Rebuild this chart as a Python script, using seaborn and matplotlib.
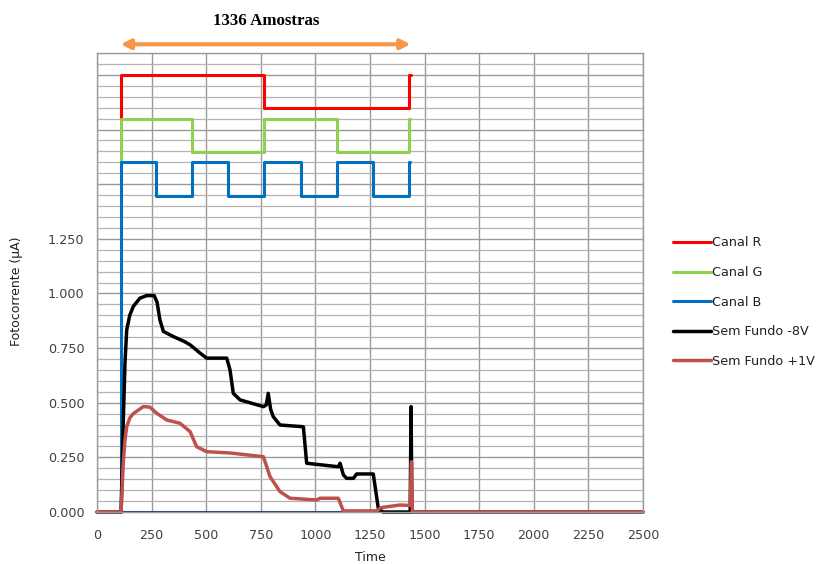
import numpy as np
import pandas as pd
import matplotlib
matplotlib.use("Agg")
import matplotlib.pyplot as plt
from matplotlib.ticker import FixedLocator, FixedFormatter, MultipleLocator
import seaborn as sns

# --- data ---
# channel square waves (offset levels, time in samples)
r_time = [108, 108, 766, 766, 1430, 1430, 1436]
r_level = [1.80, 2.00, 2.00, 1.85, 1.85, 2.00, 2.00]

g_time = [108, 108, 434, 434, 766, 766, 1098, 1098, 1430, 1430, 1434]
g_level = [1.60, 1.80, 1.80, 1.645, 1.645, 1.80, 1.80, 1.645, 1.645, 1.80, 1.80]

b_time = [0, 108, 108, 270, 270, 434, 434, 600, 600, 766, 766, 932, 932,
          1098, 1098, 1264, 1264, 1430, 1430, 1434]
b_level = [0, 0, 1.60, 1.60, 1.445, 1.445, 1.60, 1.60, 1.445, 1.445, 1.60,
           1.60, 1.445, 1.445, 1.60, 1.60, 1.445, 1.445, 1.60, 1.60]

# baseline of the blue channel at zero
base_time = [108, 1300]
base_level = [0, 0]

# photocurrent without background, -8V
k_time = [0, 110, 114, 120, 128, 136, 150, 166, 196, 227, 262, 275, 288, 304,
          349, 400, 426, 472, 502, 594, 609, 624, 655, 762, 775, 784, 795,
          807, 838, 945, 960, 1105, 1113, 1128, 1143, 1174, 1189, 1265, 1288,
          1310, 1434, 1438, 1442, 2500]
k_current = [0, 0, 0.15, 0.40, 0.68, 0.833, 0.90, 0.94, 0.978, 0.99, 0.99,
             0.96, 0.879, 0.826, 0.803, 0.78, 0.765, 0.727, 0.704, 0.704,
             0.65, 0.543, 0.513, 0.482, 0.49, 0.543, 0.47, 0.436, 0.398, 0.39,
             0.223, 0.207, 0.223, 0.17, 0.154, 0.154, 0.174, 0.174, 0.017,
             0.0, 0.0, 0.482, 0.0, 0.0]

# photocurrent without background, +1V
f_time = [0, 110, 115, 120, 128, 136, 150, 166, 212, 242, 273, 319, 380, 426,
          456, 502, 609, 762, 792, 838, 884, 1006, 1021, 1105, 1128, 1280,
          1300, 1387, 1434, 1440, 1444, 2500]
f_current = [0, 0, 0.10, 0.22, 0.33, 0.39, 0.43, 0.45, 0.482, 0.48, 0.452,
             0.421, 0.406, 0.368, 0.299, 0.276, 0.27, 0.253, 0.162, 0.093,
             0.063, 0.055, 0.063, 0.063, 0.005, 0.005, 0.02, 0.032, 0.03,
             0.23, 0.0, 0.0]

series = [
    ("Canal R", r_time, r_level, "#FF0000", 2.2),
    ("Canal G", g_time, g_level, "#92D050", 2.2),
    ("Canal B", b_time, b_level, "#0070C0", 2.2),
    ("Sem Fundo -8V", k_time, k_current, "#000000", 2.5),
    ("Sem Fundo +1V", f_time, f_current, "#C0504D", 2.5),
]

x_ticks = [0, 250, 500, 750, 1000, 1250, 1500, 1750, 2000, 2250, 2500]
y_ticks = [0, 0.25, 0.5, 0.75, 1.0, 1.25, 1.5, 1.75, 2.0]
y_labels = ["0.000", "0.250", "0.500", "0.750", "1.000", "1.250", "", "", ""]

sns.set_style("white")
plt.rcParams["font.family"] = ["DejaVu Sans"]

fig = plt.figure(figsize=(8.17, 5.64), dpi=100)
ax = fig.add_axes([97 / 817, 1 - 512 / 564, 546 / 817, 459 / 564])

sns.lineplot(x=base_time, y=base_level, color="#1F3A68", lw=1.5,
             estimator=None, sort=False, ax=ax)
for name, xs, ys, col, w in series:
    sns.lineplot(x=xs, y=ys, color=col, lw=w, label=name,
                 estimator=None, sort=False, ax=ax)

for ln in ax.get_lines():
    ln.set_clip_on(False)

ax.set_xlim(0, 2500)
ax.set_ylim(0, 2.1)
ax.xaxis.set_major_locator(FixedLocator(x_ticks))
ax.yaxis.set_major_locator(FixedLocator(y_ticks))
ax.yaxis.set_major_formatter(FixedFormatter(y_labels))
ax.yaxis.set_minor_locator(MultipleLocator(0.05))

ax.grid(which="major", axis="both", color="#9A9A9A", lw=1)
ax.grid(which="minor", axis="y", color="#B4B4B4", lw=0.9)
ax.set_axisbelow(True)
for s in ax.spines.values():
    s.set_color("#9A9A9A")
    s.set_linewidth(1)

ax.tick_params(axis="both", which="major", labelsize=9.2, labelcolor="#404040",
               length=4, color="#9A9A9A", direction="out")
ax.tick_params(axis="y", pad=5)
ax.tick_params(axis="x", length=0, pad=12)
ax.tick_params(which="minor", length=0)

ax.set_xlabel("Time", fontsize=9, color="#202020", labelpad=7)
ax.set_ylabel("Fotocorrente (µA)", fontsize=9, color="#202020")
ax.yaxis.set_label_coords(-0.135, 0.48)

ax.legend_.remove()
handles, labels = ax.get_legend_handles_labels()
fig.legend(handles[-5:], labels[-5:], loc="upper left",
           bbox_to_anchor=(661 / 817, 1 - 225 / 564), frameon=False,
           fontsize=9.2, handlelength=3.0, handletextpad=0.1,
           labelspacing=1.3, labelcolor="#202020")

# arrow marking the 1336 samples
ax.annotate("", xy=(108, 2.14), xytext=(1436, 2.14), xycoords="data",
            annotation_clip=False,
            arrowprops=dict(arrowstyle="<|-|>", color="#F79646", lw=3,
                            mutation_scale=14, shrinkA=0, shrinkB=0))
ax.text(775, 2.21, "1336 Amostras", ha="center", va="bottom",
        fontsize=12.2, fontweight="bold", family="Liberation Serif",
        color="#000000")

fig.savefig("out.png", dpi=100)
